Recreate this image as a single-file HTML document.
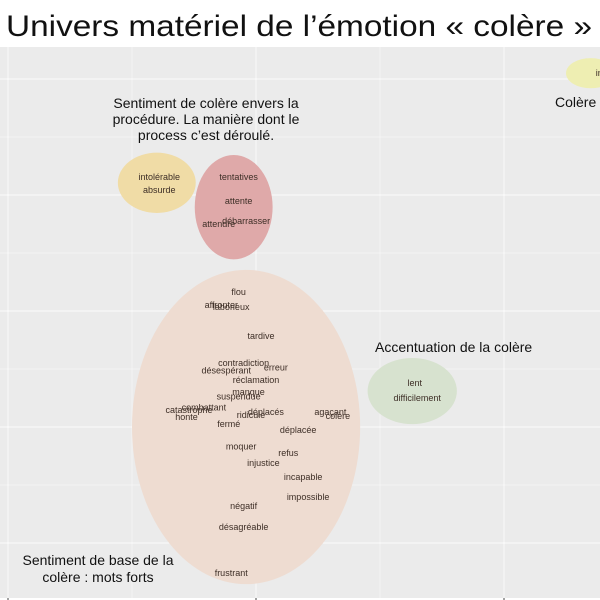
<!DOCTYPE html>
<html><head><meta charset="utf-8"><style>
html,body{margin:0;padding:0;background:#fff;}
svg{display:block;font-family:"Liberation Sans",sans-serif;}
</style></head><body>
<svg id="chart" width="600" height="600" viewBox="0 0 600 600">
<text x="6" y="36" font-size="30" fill="#111" textLength="586" lengthAdjust="spacingAndGlyphs">Univers matériel de l’émotion « colère »</text>
<defs><clipPath id="pc"><rect x="0" y="47" width="600" height="551"/></clipPath></defs>
<rect x="0" y="47" width="600" height="551" fill="#ebebeb"/>
<g id="grid"></g>
<g id="marks" clip-path="url(#pc)"></g>
</svg>
<script>
const xTicks=[0,0.5,1,1.5,2,2.5];
const yTicks=[0,1,2,3,4,5,6,7,8];
const words=["flou","affronter","laborieux","tardive","contradiction","erreur","désespérant","réclamation","manque","suspendue","combattant","catastrophe","honte","déplacés","ridicule","agaçant","colère","fermé","déplacée","moquer","refus","injustice","incapable","impossible","négatif","désagréable","frustrant","tentatives","attente","attendre","débarrasser","intolérable","absurde","lent","difficilement","inacceptable"];
const wordX=[0.93,0.86,0.90,1.02,0.95,1.08,0.88,1.00,0.97,0.93,0.79,0.73,0.72,1.04,0.98,1.30,1.33,0.89,1.17,0.94,1.13,1.03,1.19,1.21,0.95,0.95,0.90,0.93,0.93,0.85,0.96,0.61,0.61,1.64,1.65,2.37];
const wordY=[4.33,4.10,4.07,3.57,3.10,3.03,2.97,2.81,2.60,2.53,2.34,2.29,2.17,2.26,2.21,2.26,2.19,2.05,1.95,1.66,1.55,1.38,1.14,0.79,0.64,0.28,-0.52,6.31,5.90,5.50,5.55,6.31,6.09,2.76,2.50,8.10];
const clusterNames=["procedure-yellow","procedure-red","base-peach","accentuation-green","colere-top-right"];
const clusterCX=[0.60,0.91,0.96,1.63,2.35];
const clusterCY=[6.21,5.79,2.00,2.62,8.10];
const clusterRX=[0.157,0.157,0.46,0.18,0.10];
const clusterRY=[0.52,0.90,2.71,0.57,0.26];
const clusterColor=["#f0dca6","#dfa9a9","#eedcd1","#d7e2cf","#eeeeb2"];
const sx=v=>8+248*v;
const sy=v=>543-58*v;
const NS="http://www.w3.org/2000/svg";
const grid=document.getElementById('grid'),marks=document.getElementById('marks'),svg=document.getElementById('chart');
function mk(tag,attrs,parent){const e=document.createElementNS(NS,tag);for(const k in attrs)e.setAttribute(k,attrs[k]);parent.appendChild(e);return e;}
xTicks.forEach((t,i)=>{const l=mk('line',{x1:sx(t),x2:sx(t),y1:47,y2:598,stroke:'#fff','stroke-width':i%2?0.5:0.9,'stroke-opacity':0.8},grid);


if(i%2===0){const tk=mk('line',{x1:sx(t),x2:sx(t),y1:598,y2:600,stroke:'#444'},svg);

}});
yTicks.forEach((t,i)=>{const l=mk('line',{x1:0,x2:600,y1:sy(t),y2:sy(t),stroke:'#fff','stroke-width':i%2?0.5:0.9,'stroke-opacity':0.8},grid);

});
clusterNames.forEach((n,i)=>{const e=mk('ellipse',{cx:sx(clusterCX[i]),cy:sy(clusterCY[i]),rx:248*clusterRX[i],ry:58*clusterRY[i],fill:clusterColor[i]},marks);

});
words.forEach((w,i)=>{const last=i===words.length-1;const t=mk('text',{x:sx(wordX[i]),y:sy(wordY[i])+3,'font-size':9,fill:'#3d2e26','text-anchor':last?'start':'middle'},marks);
t.textContent=w;

});
const annLines=[["Sentiment de colère envers la",206,108,"middle"],["procédure. La manière dont le",206,124,"middle"],["process c’est déroulé.",206,140,"middle"],["Colère liée",555,107,"start"],["Accentuation de la colère",375,352,"start"],["Sentiment de base de la",98,565,"middle"],["colère : mots forts",98,582,"middle"]];
annLines.forEach(a=>{const t=mk('text',{x:a[1],y:a[2],'font-size':14,fill:'#111','text-anchor':a[3]},marks);
t.textContent=a[0];

});
</script>
</body></html>
